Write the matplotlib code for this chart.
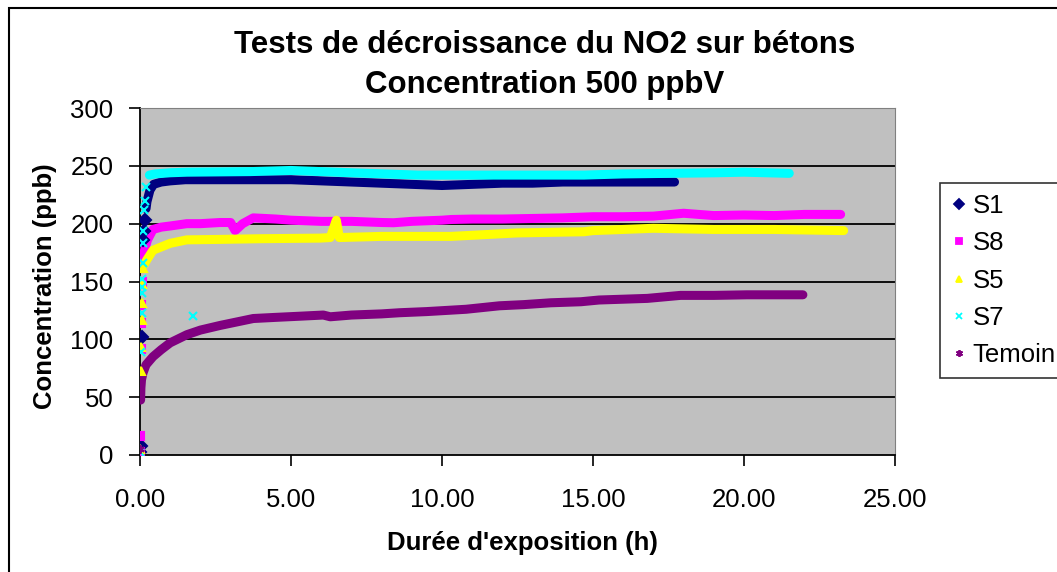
import matplotlib
matplotlib.use('Agg')
import matplotlib.pyplot as plt
from matplotlib.lines import Line2D
from matplotlib.patches import Rectangle
import numpy as np

# Concentration (ppb) vs exposure time (h)
s1_t = [0.00, 0.02, 0.05, 0.10, 0.13, 0.17, 0.20, 0.23, 0.27, 0.33, 0.45, 0.7, 1.0, 1.5, 2.0,
        3.0, 4.0, 5.0, 6.0, 7.0, 8.0, 9.0, 10.0, 11.0, 12.0, 13.0, 14.0, 15.0, 16.0, 17.0, 17.7]
s1_c = [3, 8, 102, 186, 194, 203, 213, 219, 223, 229, 234, 236, 237, 238, 238,
        238, 238, 238, 237, 236, 235, 234, 233, 234, 235, 235, 236, 236, 236, 236, 236]

s8_t = [0.00, 0.01, 0.02, 0.03, 0.04, 0.06, 0.10, 0.15, 0.25, 0.43, 0.7, 1.0, 1.55, 2.0, 2.65,
        3.0, 3.15, 3.4, 3.75, 4.5, 5.0, 6.0, 7.0, 8.0, 8.4, 9.0, 10.0, 10.3, 11.0, 12.0, 13.0,
        14.0, 15.0, 16.0, 17.0, 18.0, 19.0, 20.0, 21.0, 22.0, 23.2]
s8_c = [3, 16, 92, 114, 130, 150, 168, 177, 186, 195, 197, 198, 200, 200, 201,
        201, 194, 200, 205, 204, 203, 202, 202, 201, 200.8, 202, 203, 203.6, 204, 204, 204.5,
        205, 206, 206, 206.5, 209, 207, 207.5, 207, 208, 208]

s5_t = [0.00, 0.03, 0.04, 0.05, 0.06, 0.08, 0.10, 0.15, 0.22, 0.43, 1.0, 1.55, 2.65, 4.0,
        5.96, 6.3, 6.5, 6.6, 8.0, 10.3, 12.5, 14.7, 15.0, 17.0, 19.0, 21.0, 23.3]
s5_c = [5, 73, 93, 117, 131, 148, 162, 165, 168.5, 177, 183, 186, 186.4, 187,
        187.5, 188, 203, 188, 189, 189, 192, 193, 194, 196, 195, 195, 194]

s7_t = [0.00, 0.02, 0.05, 0.07, 0.07, 0.07, 0.09, 0.11, 0.11, 0.14, 0.18, 0.20, 0.31, 0.5,
        1.0, 1.55, 3.64, 5.0, 6.0, 7.0, 9.2, 11.0, 13.0, 14.7, 16.0, 19.1, 20.0, 21.5]
s7_c = [3, 89, 122.5, 140, 145.5, 152, 166, 183, 194, 212, 220, 232, 242, 243,
        244, 244.5, 245, 246, 245, 244, 242, 242, 242, 242, 243, 244, 244.5, 243.5]
s7_out_t = [1.74]
s7_out_c = [120]

tem_t = [0.00, 0.02, 0.03, 0.05, 0.10, 0.20, 0.43, 0.7, 1.0, 1.55, 2.0, 2.65, 3.2, 3.75, 4.5,
         5.3, 6.07, 6.3, 7.0, 8.0, 8.6, 9.5, 10.8, 11.9, 12.7, 13.6, 14.6, 15.2, 16.8, 17.9,
         19.0, 20.1, 21.0, 21.95]
tem_c = [5, 47.5, 58, 65, 71, 78, 85, 91, 97, 104, 108, 112, 115, 118, 119,
         120, 121, 119.5, 121, 122, 123, 124, 126, 129, 130, 131.6, 132.5, 134, 135.4, 138,
         138, 138.5, 138.5, 138.5]

series = [
    ("S1", s1_t, s1_c, "#000080", "D", 0.20),
    ("S8", s8_t, s8_c, "#FF00FF", "s", 0.10),
    ("S5", s5_t, s5_c, "#FFFF00", "^", 0.15),
    ("S7", s7_t, s7_c, "#00FFFF", "x", 0.25),
    ("Temoin", tem_t, tem_c, "#800080", (6, 2, 0), 0.02),
]

fig = plt.figure(figsize=(10.57, 5.72), dpi=100)
plt.rcParams['font.family'] = ['Liberation Sans', 'DejaVu Sans']
ax = fig.add_axes([140 / 1057, 1 - 455 / 572, 755 / 1057, 347 / 572])
ax.set_facecolor('#C0C0C0')

for name, t, c, col, mk, t0 in series:
    t = np.array(t)
    c = np.array(c)
    band = t >= t0
    # the dense marker cloud shows as a thick band
    ax.plot(t[band], c[band], color=col, lw=6.5, solid_capstyle='round',
            solid_joinstyle='round', zorder=3)
    ax.plot(t[~band], c[~band], linestyle='none', marker=mk, color=col, markersize=6,
            markeredgewidth=1.5, zorder=4)
ax.plot(s7_out_t, s7_out_c, linestyle='none', marker='x', color='#00FFFF',
        markersize=6, markeredgewidth=1.5, zorder=4)

ax.set_xlim(0, 25)
ax.set_ylim(0, 300)
ax.set_xticks(np.arange(0, 26, 5))
ax.set_xticklabels([f"{v:.2f}" for v in np.arange(0, 26, 5)])
ax.set_yticks(np.arange(0, 301, 50))
for yv in range(50, 300, 50):
    ax.axhline(yv, color='black', lw=1.3, zorder=1)
ax.tick_params(axis='both', labelsize=18.5, length=8, width=1.2, direction='out')
ax.tick_params(axis='y', pad=11)
ax.tick_params(axis='x', pad=16)
for side in ['top', 'right']:
    ax.spines[side].set_color('#808080')
for side in ['left', 'bottom']:
    ax.spines[side].set_color('black')
    ax.spines[side].set_linewidth(1.3)

fig.text(545 / 1057, 1 - 45 / 572, "Tests de décroissance du NO2 sur bétons",
         ha='center', va='center', fontsize=22.5, fontweight='bold')
fig.text(545 / 1057, 1 - 85 / 572, "Concentration 500 ppbV",
         ha='center', va='center', fontsize=22.5, fontweight='bold')
fig.text(522 / 1057, 1 - 543 / 572, "Durée d'exposition (h)",
         ha='center', va='center', fontsize=18.5, fontweight='bold')
fig.text(45 / 1057, 1 - 286 / 572, "Concentration (ppb)", rotation=90,
         ha='center', va='center', fontsize=18.5, fontweight='bold')

handles = [Line2D([], [], linestyle='none', marker=mk, color=col, markersize=5,
                  markeredgewidth=1.3) for _, _, _, col, mk, _ in series]
leg = fig.legend(handles, [s[0] for s in series], loc='upper left',
                 bbox_to_anchor=(940 / 1057, 1 - 183 / 572), fontsize=18.5,
                 frameon=True, fancybox=False, edgecolor='black',
                 handlelength=0.6, handletextpad=0.25, borderpad=0.42,
                 labelspacing=0.52, borderaxespad=0)
leg.get_frame().set_linewidth(1.2)

# outer chart frame (cut off at right and bottom in the reference)
fig.patches.append(Rectangle((9 / 1057, -0.1), 1.2, 1.1 - 8 / 572, transform=fig.transFigure,
                             fill=False, edgecolor='black', lw=1.5))

fig.savefig('out.png', dpi=100)
